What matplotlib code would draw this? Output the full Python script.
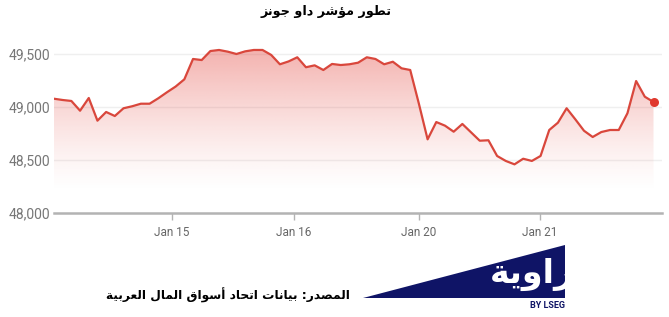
import numpy as np
import matplotlib
matplotlib.use("Agg")
import matplotlib.pyplot as plt
from matplotlib.patches import Polygon
from matplotlib.ticker import FuncFormatter

# ---------------- data ----------------
title_text = "تطور مؤشر داو جونز"
source_text = "المصدر: بيانات اتحاد أسواق المال العربية"
logo_text = "زاوية"
logo_sub = "BY LSEG"

tick_labels = ["Jan 15", "Jan 16", "Jan 20", "Jan 21"]
tick_index = [13.6, 27.6, 42.0, 55.9]

dow_values = [
    49078, 49066, 49057, 48965, 49085, 48871, 48953, 48915, 48988, 49007,
    49031, 49031, 49082, 49139, 49193, 49261, 49453, 49443, 49528, 49538,
    49522, 49500, 49525, 49538, 49538, 49491, 49403, 49430, 49469, 49375,
    49393, 49349, 49406, 49396, 49403, 49418, 49469, 49453, 49403, 49427,
    49365, 49349, 49030, 48695, 48858, 48824, 48767, 48840, 48761, 48682,
    48686, 48538, 48491, 48459, 48512, 48491, 48538, 48783, 48852, 48988,
    48884, 48776, 48717, 48764, 48783, 48783, 48941, 49245, 49097, 49047,
]
y_ticks = [48000, 48500, 49000, 49500]

# ---------------- arabic shaping ----------------
FORMS = {
    '\u0627': ('\uFE8D', '\uFE8E', None, None),
    '\u0623': ('\uFE83', '\uFE84', None, None),
    '\u0624': ('\uFE85', '\uFE86', None, None),
    '\u0628': ('\uFE8F', '\uFE90', '\uFE91', '\uFE92'),
    '\u0629': ('\uFE93', '\uFE94', None, None),
    '\u062A': ('\uFE95', '\uFE96', '\uFE97', '\uFE98'),
    '\u062C': ('\uFE9D', '\uFE9E', '\uFE9F', '\uFEA0'),
    '\u062D': ('\uFEA1', '\uFEA2', '\uFEA3', '\uFEA4'),
    '\u062F': ('\uFEA9', '\uFEAA', None, None),
    '\u0631': ('\uFEAD', '\uFEAE', None, None),
    '\u0632': ('\uFEAF', '\uFEB0', None, None),
    '\u0633': ('\uFEB1', '\uFEB2', '\uFEB3', '\uFEB4'),
    '\u0634': ('\uFEB5', '\uFEB6', '\uFEB7', '\uFEB8'),
    '\u0635': ('\uFEB9', '\uFEBA', '\uFEBB', '\uFEBC'),
    '\u0637': ('\uFEC1', '\uFEC2', '\uFEC3', '\uFEC4'),
    '\u0639': ('\uFEC9', '\uFECA', '\uFECB', '\uFECC'),
    '\u0642': ('\uFED5', '\uFED6', '\uFED7', '\uFED8'),
    '\u0644': ('\uFEDD', '\uFEDE', '\uFEDF', '\uFEE0'),
    '\u0645': ('\uFEE1', '\uFEE2', '\uFEE3', '\uFEE4'),
    '\u0646': ('\uFEE5', '\uFEE6', '\uFEE7', '\uFEE8'),
    '\u0648': ('\uFEED', '\uFEEE', None, None),
    '\u064A': ('\uFEF1', '\uFEF2', '\uFEF3', '\uFEF4'),
}
LAMALEF = {'\u0627': ('\uFEFB', '\uFEFC'), '\u0623': ('\uFEF7', '\uFEF8')}


def shape(s):
    try:
        import arabic_reshaper
        from bidi.algorithm import get_display
        return get_display(arabic_reshaper.reshape(s))
    except Exception:
        pass
    chars = list(s)
    n = len(chars)

    def joins_next(c):
        return c in FORMS and FORMS[c][2] is not None

    res = []
    i = 0
    while i < n:
        c = chars[i]
        if c not in FORMS:
            res.append(c)
            i += 1
            continue
        prev = chars[i - 1] if i > 0 else None
        jp = prev is not None and joins_next(prev)
        if c == '\u0644' and i + 1 < n and chars[i + 1] in LAMALEF:
            lig = LAMALEF[chars[i + 1]]
            res.append(lig[1] if jp else lig[0])
            i += 2
            continue
        nxt = chars[i + 1] if i + 1 < n else None
        jn = joins_next(c) and nxt is not None and nxt in FORMS
        iso, fin, ini, med = FORMS[c]
        if jp and jn:
            res.append(med)
        elif jp:
            res.append(fin)
        elif jn:
            res.append(ini)
        else:
            res.append(iso)
        i += 1
    return ''.join(reversed(res))


# ---------------- figure ----------------
W, H = 669, 317
fig = plt.figure(figsize=(W / 100, H / 100), dpi=100)


def fx(px):
    return px / W


def fy(py):
    return 1 - py / H


ax_left, ax_right, ax_top, ax_bottom = 54, 662, 40, 213
ax = fig.add_axes([fx(ax_left), fy(ax_bottom), fx(ax_right - ax_left), (ax_bottom - ax_top) / H])

x = np.arange(len(dow_values))
y = np.array(dow_values, dtype=float)
ymin = y_ticks[0]
ymax = 49500 + (49500 - 48000) / (213 - 54) * (54 - ax_top)
x_end = (ax_right - ax_left) / ((653.5 - 54) / (len(dow_values) - 1))
ax.set_xlim(0, x_end)
ax.set_ylim(ymin, ymax)

# gradient fill
verts = np.column_stack([np.r_[x, x[::-1]], np.r_[y, np.full_like(y, ymin)]])
poly = Polygon(verts, closed=True, facecolor='none', edgecolor='none')
ax.add_patch(poly)
ny = 400
yy = np.linspace(ymin, ymax, ny)
t = np.clip((yy - 48200) / (49600 - 48200), 0, 1)
alpha = 0.44 * t ** 1.3
rgba = np.zeros((ny, 2, 4))
rgba[..., 0] = 228 / 255
rgba[..., 1] = 70 / 255
rgba[..., 2] = 62 / 255
rgba[..., 3] = alpha[:, None]
im = ax.imshow(rgba, extent=[0, x[-1], ymin, ymax], aspect='auto', origin='lower', zorder=1,
               interpolation='bilinear')
im.set_clip_path(poly)

line_color = '#d9473c'
ax.plot(x, y, color=line_color, lw=1.6, zorder=3, solid_joinstyle='round')
ax.plot([x[-1]], [y[-1]], 'o', color='#e0392e', ms=6.5, zorder=4, markeredgewidth=0)

# grid
for v in y_ticks[1:]:
    ax.axhline(v, color='#efefef', lw=1.0, zorder=0)

for s in ['top', 'right', 'left']:
    ax.spines[s].set_visible(False)
ax.spines['bottom'].set_color('#b3b3b3')
ax.spines['bottom'].set_linewidth(1.8)

ax.set_yticks(y_ticks)
ax.yaxis.set_major_formatter(FuncFormatter(lambda v, p: f"{int(v):,}"))
ax.tick_params(axis='y', length=0, pad=3, labelsize=10, labelcolor='#767676')
ax.set_xticks(tick_index)
ax.set_xticklabels(tick_labels)
ax.tick_params(axis='x', length=5, width=1, color='#b3b3b3', pad=4, labelsize=8.5, labelcolor='#666666')
for lab in ax.get_xticklabels() + ax.get_yticklabels():
    lab.set_fontfamily('Roboto')

# title
fig.text(fx(326), fy(12), shape(title_text), ha='center', va='center', fontsize=9.2,
         fontweight='bold', color='black', family=['DejaVu Sans'])

# source
fig.text(fx(350), fy(295), shape(source_text), ha='right', va='center', fontsize=8.8,
         fontweight='bold', color='black', family=['DejaVu Sans'])

# logo triangle
navy = '#0f1466'
tri_pts = [(fx(363), fy(298)), (fx(565), fy(245)), (fx(565), fy(298))]
tri = Polygon(tri_pts, closed=True, transform=fig.transFigure, facecolor=navy, edgecolor='none')
fig.patches.append(tri)
lt = fig.text(fx(574), fy(274), shape(logo_text), ha='right', va='center', fontsize=24,
              fontweight='bold', color='white', family=['DejaVu Sans'])
lt.set_clip_path(tri)
fig.text(fx(565), fy(306), logo_sub, ha='right', va='center', fontsize=6.5,
         fontweight='bold', color=navy, family=['Roboto'])

fig.savefig('out.png', dpi=100)
